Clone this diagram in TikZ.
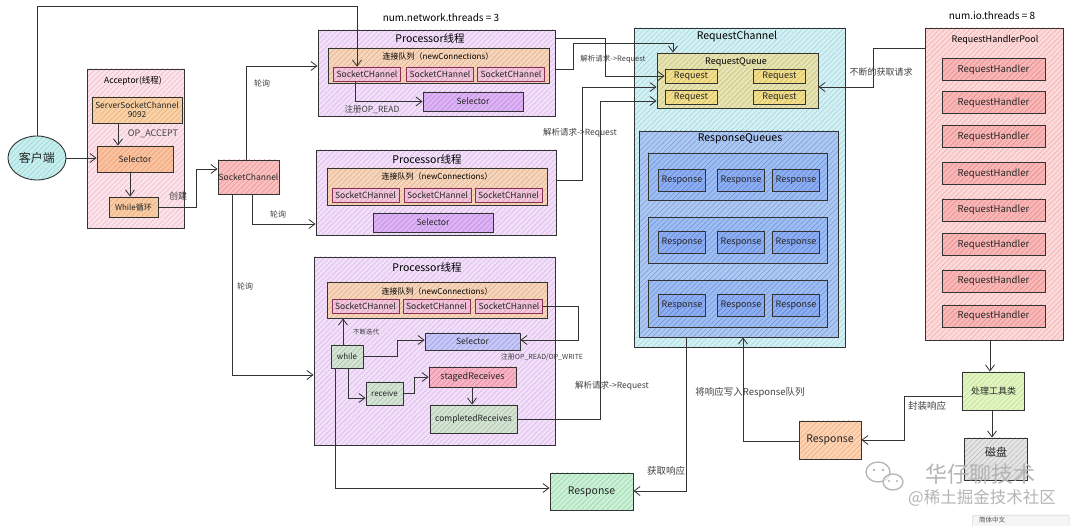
\documentclass[tikz,border=0pt]{standalone}
\usepackage{fontspec}
\setmainfont{Noto Sans CJK SC}
\usetikzlibrary{arrows.meta,patterns.meta,shapes.geometric,calc}
\definecolor{lc}{HTML}{333333}
\definecolor{cliA}{HTML}{C8EEEE}\definecolor{cliB}{HTML}{8FD3D5}
\definecolor{accA}{HTML}{FBE3EA}\definecolor{accB}{HTML}{F2B3C6}
\definecolor{sscA}{HTML}{F8D2A8}\definecolor{sscB}{HTML}{EDA868}
\definecolor{aselA}{HTML}{F9C2A0}\definecolor{aselB}{HTML}{EE9A6A}
\definecolor{whA}{HTML}{F8CCA6}\definecolor{whB}{HTML}{EEA872}
\definecolor{scoA}{HTML}{F9C0C0}\definecolor{scoB}{HTML}{EE8C8C}
\definecolor{prA}{HTML}{F1E0F8}\definecolor{prB}{HTML}{D9B0EE}
\definecolor{qA}{HTML}{F5D6BC}\definecolor{qB}{HTML}{E2AA80}
\definecolor{scsA}{HTML}{F2C8DC}\definecolor{scsB}{HTML}{DC96BC}\definecolor{scsD}{HTML}{8A3050}
\definecolor{pselA}{HTML}{DDB4F2}\definecolor{pselB}{HTML}{BE82E6}
\definecolor{sthA}{HTML}{C8C8F6}\definecolor{sthB}{HTML}{9494EA}
\definecolor{gA}{HTML}{D6E4D6}\definecolor{gB}{HTML}{A2BEA2}
\definecolor{stA}{HTML}{F6B4C4}\definecolor{stB}{HTML}{E67E98}
\definecolor{rchA}{HTML}{D4F0F2}\definecolor{rchB}{HTML}{96D6E0}
\definecolor{rqA}{HTML}{E6E4B4}\definecolor{rqB}{HTML}{C4BE72}
\definecolor{reqA}{HTML}{F2E092}\definecolor{reqB}{HTML}{D6B444}
\definecolor{rqsA}{HTML}{AFC8F0}\definecolor{rqsB}{HTML}{7098E2}
\definecolor{rowA}{HTML}{9EBDF0}\definecolor{rowB}{HTML}{6690E0}
\definecolor{rspA}{HTML}{8EAEF0}\definecolor{rspB}{HTML}{5580E2}
\definecolor{poolA}{HTML}{FCDADA}\definecolor{poolB}{HTML}{F2A8A8}
\definecolor{rhA}{HTML}{F8B8B8}\definecolor{rhB}{HTML}{EA8282}
\definecolor{toolA}{HTML}{E2F4C4}\definecolor{toolB}{HTML}{BCE088}
\definecolor{diskA}{HTML}{E4E4E4}\definecolor{diskB}{HTML}{B8B8B8}
\definecolor{orA}{HTML}{FCD4B4}\definecolor{orB}{HTML}{F2A474}
\definecolor{grA}{HTML}{CCF0D6}\definecolor{grB}{HTML}{8CD6A4}
\definecolor{wm}{HTML}{B4B4B4}
\begin{document}
\begin{tikzpicture}[x=1pt,y=-1pt,
  box/.style={rectangle, draw=lc, line width=0.9pt, inner sep=0pt, align=center, text=black!85},
  hat/.style 2 args={preaction={fill=#1}, pattern={Lines[angle=45,distance=3.6pt,line width=0.45pt]}, pattern color=#2},
  fseven/.style={font=\fontsize{7}{8}\selectfont},
  fsevh/.style={font=\fontsize{7.5}{8.5}\selectfont},
  feight/.style={font=\fontsize{8}{9.5}\selectfont},
  feigh/.style={font=\fontsize{8.5}{10}\selectfont},
  fnine/.style={font=\fontsize{9}{10.5}\selectfont},
  fninh/.style={font=\fontsize{9.5}{11}\selectfont},
  ften/.style={font=\fontsize{10}{12}\selectfont},
  ftenh/.style={font=\fontsize{10.5}{12}\selectfont},
  el/.style={text=black!75, inner sep=1pt},
  conn/.style={draw=lc, line width=0.8pt},
  arr/.style={conn, -{Straight Barb[length=6pt,width=9pt,line width=0.8pt]}},
  scs/.style={box, draw=scsD, line width=0.8pt, hat={scsA}{scsB}, minimum width=67, minimum height=14, feigh},
]
\useasboundingbox (0,0) rectangle (1080,526);

% ---------- containers ----------
\node[box, hat={accA}{accB}, minimum width=97, minimum height=159] (acc) at (135.5,148.5) {};
\node[box, hat={prA}{prB}, minimum width=237, minimum height=86] (p1) at (436.5,73) {};
\node[box, hat={prA}{prB}, minimum width=240, minimum height=85] (p2) at (436,192.5) {};
\node[box, hat={prA}{prB}, minimum width=241, minimum height=188] (p3) at (434.5,351) {};
\node[box, hat={rchA}{rchB}, minimum width=211, minimum height=319] (rch) at (739.5,187.5) {};
\node[box, hat={poolA}{poolB}, minimum width=138, minimum height=312] (pool) at (994,184) {};

% ---------- titles ----------
\node[feigh] (acct) at (133,81) {Acceptor(线程)};
\node[ften] (nnt) at (441,18) {num.network.threads = 3};
\node[ftenh] (p1t) at (430,38) {Processor线程};
\node[ftenh] (p2t) at (427,159) {Processor线程};
\node[ftenh] (p3t) at (427,267) {Processor线程};
\node[ftenh] (rcht) at (737,37) {RequestChannel};
\node[ften] (niot) at (992,16) {num.io.threads = 8};
\node[fnine] (poolt) at (995,40) {RequestHandlerPool};

% ---------- client & acceptor ----------
\node[box, ellipse, hat={cliA}{cliB}, minimum width=58, minimum height=44, font=\fontsize{12}{14}\selectfont] (cli) at (37,158) {客户端};
\node[box, hat={sscA}{sscB}, minimum width=90, minimum height=26, font=\fontsize{8.3}{9.5}\selectfont] (ssc) at (137,110) {ServerSocketChannel\\9092};
\node[box, hat={aselA}{aselB}, minimum width=76, minimum height=26, feigh] (asel) at (135,159) {Selector};
\node[box, hat={whA}{whB}, minimum width=49, minimum height=20, feight] (wh) at (133.5,207) {While循环};
\node[box, hat={scoA}{scoB}, minimum width=61, minimum height=34, feigh] (sc0) at (248.5,177) {SocketChannel};

% ---------- processor 1 ----------
\node[box, hat={qA}{qB}, minimum width=221, minimum height=35] (q1) at (438.5,65.5) {};
\node[feight] (q1t) at (438,56) {连接队列（newConnections）};
\node[scs] (p1s1) at (367,74) {SocketCHannel};
\node[scs] (p1s2) at (440,74) {SocketCHannel};
\node[scs] (p1s3) at (511,74) {SocketCHannel};
\node[box, hat={pselA}{pselB}, minimum width=100, minimum height=19, feigh] (s1) at (473,101.5) {Selector};

% ---------- processor 2 ----------
\node[box, hat={qA}{qB}, minimum width=220, minimum height=37] (q2) at (437,186.5) {};
\node[feight] (q2t) at (437,176) {连接队列（newConnections）};
\node[scs] (p2s1) at (365.5,195) {SocketCHannel};
\node[scs] (p2s2) at (437.5,195) {SocketCHannel};
\node[scs] (p2s3) at (508.5,195) {SocketCHannel};
\node[box, hat={pselA}{pselB}, minimum width=120, minimum height=19, feigh] (s2) at (433,222.5) {Selector};

% ---------- processor 3 ----------
\node[box, hat={qA}{qB}, minimum width=220, minimum height=36] (q3) at (437,300) {};
\node[feight] (q3t) at (437,291) {连接队列（newConnections）};
\node[scs] (p3s1) at (365.5,306.5) {SocketCHannel};
\node[scs] (p3s2) at (436.5,306.5) {SocketCHannel};
\node[scs] (p3s3) at (509,306.5) {SocketCHannel};
\node[box, hat={sthA}{sthB}, minimum width=95, minimum height=17, feigh] (s3) at (472.5,341.5) {Selector};
\node[box, hat={gA}{gB}, minimum width=32, minimum height=23, feight] (wl) at (347,356.5) {while};
\node[box, hat={gA}{gB}, minimum width=37, minimum height=23, feight] (rcv) at (384.5,393.5) {receive};
\node[box, hat={stA}{stB}, minimum width=87, minimum height=20, fnine] (st) at (472.5,377) {stagedReceives};
\node[box, hat={gA}{gB}, minimum width=87, minimum height=28, feigh] (cr) at (473.5,419) {completedReceives};

% ---------- request channel ----------
\node[box, hat={rqA}{rqB}, minimum width=161, minimum height=55] (rq) at (737.5,80.5) {};
\node[fnine] (rqt) at (736,62) {RequestQueue};
\node[box, hat={reqA}{reqB}, minimum width=52, minimum height=14, fnine] (r1) at (691,76) {Request};
\node[box, hat={reqA}{reqB}, minimum width=52, minimum height=14, fnine] (r2) at (779.5,76) {Request};
\node[box, hat={reqA}{reqB}, minimum width=52, minimum height=14, fnine] (r3) at (691,97) {Request};
\node[box, hat={reqA}{reqB}, minimum width=52, minimum height=14, fnine] (r4) at (779.5,97) {Request};
\node[box, hat={rqsA}{rqsB}, minimum width=199, minimum height=206] (rqs) at (738.5,234) {};
\node[ftenh] (rqst) at (740,139) {ResponseQueues};
\foreach \y/\h [count=\j] in {176.5/47,240/46,303.5/47}
  \node[box, hat={rowA}{rowB}, minimum width=179, minimum height=\h] (row\j) at (737.5,\y) {};
\foreach \y [count=\j] in {180,242,305}
  \foreach \x [count=\i] in {682,741,796}
    \node[box, hat={rspA}{rspB}, minimum width=47, minimum height=22, fnine] (rs\j\i) at (\x,\y) {Response};

% ---------- handler pool ----------
\foreach \y [count=\i] in {69.5,102.5,136.5,173.5,210,244.5,281,316}
  \node[box, hat={rhA}{rhB}, minimum width=103, minimum height=22, fninh] (rh\i) at (993.5,\y) {RequestHandler};

\node[box, hat={toolA}{toolB}, minimum width=62, minimum height=38, fnine] (tool) at (993.5,391) {处理工具类};
\node[box, hat={diskA}{diskB}, minimum width=63, minimum height=42] (disk) at (996,459) {};
\node[font=\fontsize{11}{13}\selectfont, text=black!85] (diskt) at (996,452) {磁盘};
\node[box, hat={orA}{orB}, minimum width=62, minimum height=38, ftenh] (orr) at (830,440) {Response};
\node[box, hat={grA}{grB}, minimum width=83, minimum height=37, ftenh] (gr) at (591.5,491.5) {Response};

% ---------- connectors ----------
\draw[arr] (cli.north) -- (cli.north |- 0,6) -- (357,6) -- (357,6 |- p1s1.north);
\draw[arr] (cli.east) -- (cli.east -| asel.west);
\draw[arr] (ssc.south -| 118,0) -- (asel.north -| 118,0);
\draw[arr] (asel.south -| 130,0) -- (wh.north -| 130,0);
\draw[arr] (wh.east) -- (196,207) -- (196,169) -- (sc0.west |- 0,169);
\draw[arr] (sc0.north -| 246,0) -- (246,66) -- (p1.west |- 0,66);
\draw[arr] (sc0.south -| 252,0) -- (252,224) -- (p2.west |- 0,224);
\draw[arr] (sc0.south -| 232,0) -- (232,375) -- (p3.west |- 0,375);
\draw[arr] (p1s1.south -| 355,0) -- (355,101.5) -- (s1.west);
\draw[arr] (p1.east |- 0,38) -- (605,38) -- (605,76) -- (r1.west);
\draw[arr] (p1.east |- 0,69) -- (573,69) -- (573,43) -- (673,43) -- (rq.north -| 673,0);
\draw[arr] (p2.east |- 0,180) -- (582,180) -- (582,87) -- (rq.west |- 0,87);
\draw[arr] (cr.east) -- (600,419) -- (600,101) -- (rq.west |- 0,101);
\draw[arr] (pool.west |- 0,48) -- (873,48) -- (873,87) -- (rq.east |- 0,87);
\draw[arr] (pool.south -| 990,0) -- (tool.north -| 990,0);
\draw[arr] (tool.south -| 992,0) -- (disk.north -| 992,0);
\draw[arr] (tool.west |- 0,396) -- (904,396) -- (904,440) -- (orr.east |- 0,440);
\draw[arr] (orr.west |- 0,441) -- (743,441) -- (rqs.south -| 743,0);
\draw[arr] (rqs.south -| 686,0) -- (686,491) -- (gr.east |- 0,491);
\draw[arr] (wl.south -| 335,0) -- (335,488) -- (gr.west |- 0,488);
\draw[arr] (wl.north -| 343,0) -- (q3.south -| 343,0);
\draw[arr] (wl.east) -- (397,356.5) -- (397,340) -- (s3.west |- 0,340);
\draw[arr] (p3s3.east) -- (578,306.5) -- (578,340) -- (s3.east |- 0,340);
\draw[arr] (wl.south -| 348,0) -- (348,398) -- (rcv.west |- 0,398);
\draw[arr] (rcv.east) -- (414,393.5) -- (414,377) -- (st.west);
\draw[arr] (st.south -| 472,0) -- (cr.north -| 472,0);

% ---------- connector labels ----------
\node[el, fnine] (l1) at (153,134) {OP\_ACCEPT};
\node[el, fnine] (l2) at (178,196) {创建};
\node[el, feight] (l3) at (262,83) {轮询};
\node[el, feight] (l4) at (278,214) {轮询};
\node[el, feight] (l5) at (245,286) {轮询};
\node[el, feigh] (l6) at (372,110) {注册OP\_READ};
\node[el, fsevh] (l7) at (613,59) {解析请求->Request};
\node[el, feigh] (l8) at (580,133) {解析请求->Request};
\node[el, feigh] (l9) at (612,386) {解析请求->Request};
\node[el, fnine] (l10) at (881,72) {不断的获取请求};
\node[el, font=\fontsize{6.5}{7.5}\selectfont] (l11) at (366,332) {不断迭代};
\node[el, fseven] (l12) at (542,357) {注册OP\_READ/OP\_WRITE};
\node[el, fninh] (l13) at (750,393) {将响应写入Response队列};
\node[el, fninh] (l14) at (666,471) {获取响应};
\node[el, fninh] (l15) at (927,406) {封装响应};

% ---------- watermark ----------
\draw[wm, line width=1.3pt] (878,472) ellipse (12 and 10);
\draw[wm, line width=1.3pt, fill=white, fill opacity=0.6] (893,482) ellipse (10 and 8);
\fill[wm] (874,470) circle (1.4) (883,470) circle (1.4) (889,481) circle (1.2) (897,481) circle (1.2);
\node[text=wm, font=\fontsize{22}{25}\selectfont] (wm1) at (980,474) {华仔聊技术};
\node[text=wm, font=\fontsize{16.5}{19}\selectfont] (wm2) at (982,498) {@稀土掘金技术社区};
\node[draw=black!20, fill=black!4, rounded corners=2pt, minimum width=97, minimum height=14, anchor=north west] (lang) at (972,515) {};
\node[font=\fontsize{6.5}{7.5}\selectfont, text=black!70, anchor=west, inner sep=1pt] (langt) at (978,520.5) {简体中文};
\end{tikzpicture}
\end{document}
